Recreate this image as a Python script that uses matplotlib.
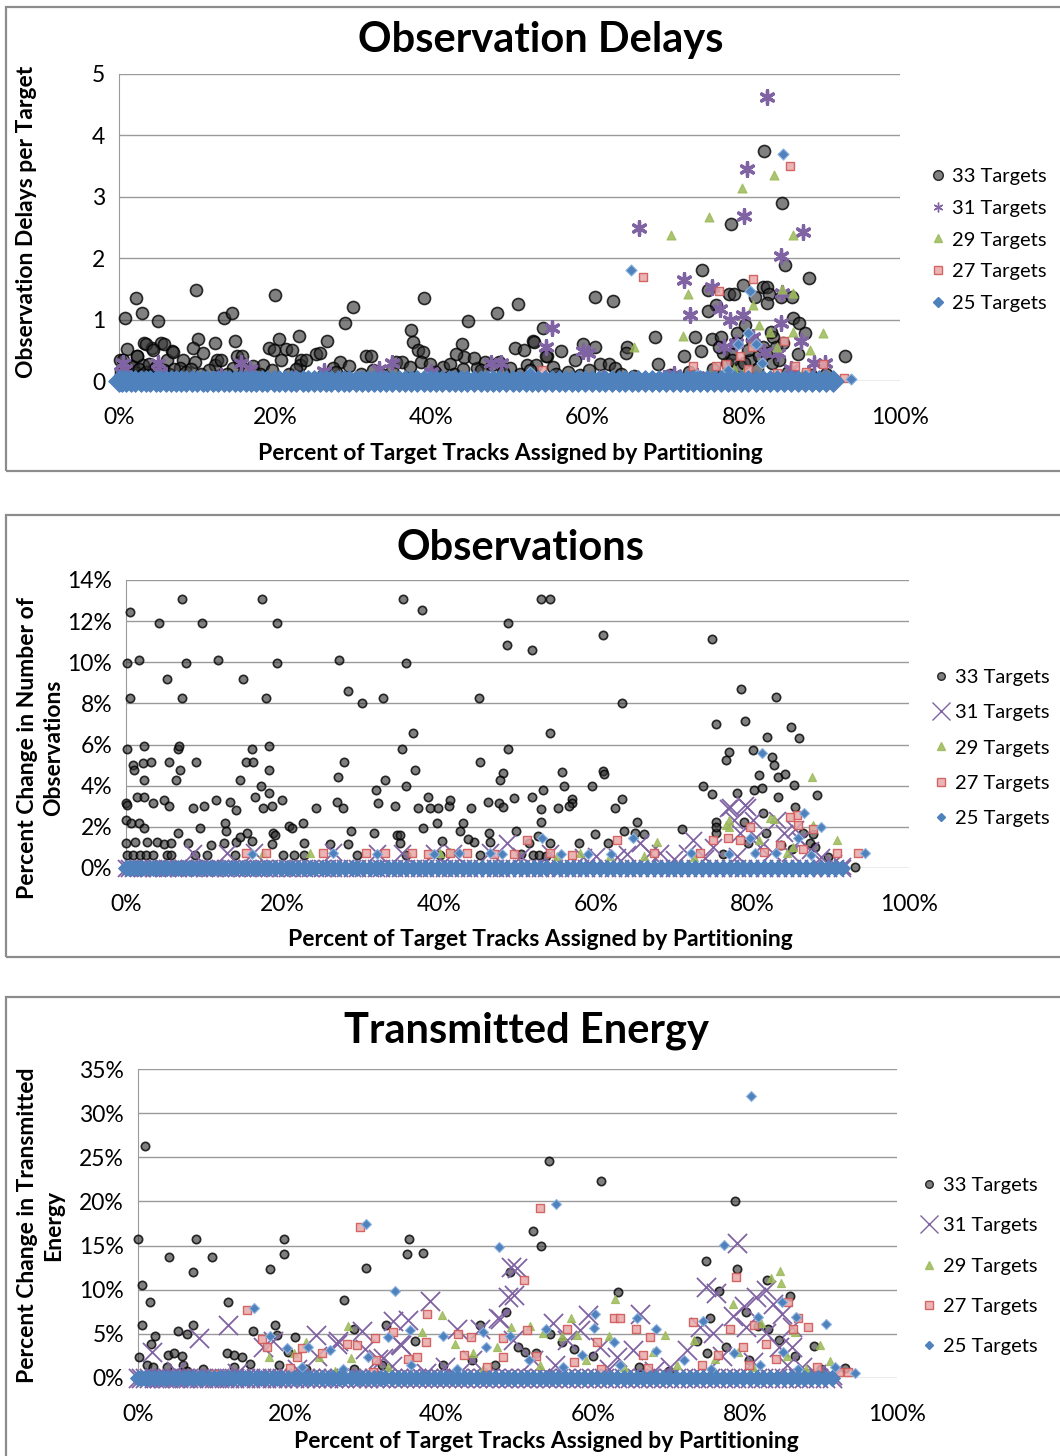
import numpy as np
import matplotlib
matplotlib.use("Agg")
import matplotlib.pyplot as plt
from matplotlib.lines import Line2D
from matplotlib.patches import Rectangle

plt.rcParams['font.family'] = ['Lato', 'DejaVu Sans']

series_names = ["33 Targets", "31 Targets", "29 Targets", "27 Targets", "25 Targets"]
x_ticks = [0, 20, 40, 60, 80, 100]

# runs whose result sits on zero (percent of tracks assigned)
zero_x = [0.0, 0.4, 0.9, 1.5, 2.1, 2.8, 3.4, 4.0, 4.7, 5.3, 6.0, 6.6, 7.3, 8.0, 8.6, 9.3,
          10.0, 10.7, 11.3, 12.0, 12.7, 13.4, 14.1, 14.8, 15.5, 16.2, 16.9, 17.6, 18.3, 19.0,
          19.8, 20.5, 21.2, 22.0, 22.7, 23.5, 24.2, 25.0, 25.7, 26.5, 27.2, 28.0, 28.8, 29.5,
          30.3, 31.1, 31.9, 32.6, 33.4, 34.2, 35.0, 35.8, 36.6, 37.4, 38.2, 39.0, 39.8, 40.6,
          41.4, 42.2, 43.0, 43.8, 44.6, 45.5, 46.3, 47.1, 47.9, 48.7, 49.6, 50.4, 51.2, 52.1,
          52.9, 53.7, 54.6, 55.4, 56.3, 57.1, 58.0, 58.8, 59.7, 60.5, 61.4, 62.2, 63.1, 64.0,
          64.8, 65.7, 66.5, 67.4, 68.3, 69.2, 70.0, 70.9, 71.8, 72.7, 73.5, 74.4, 75.3, 76.2,
          77.1, 78.0, 78.8, 79.7, 80.6, 81.5, 82.4, 83.3, 84.2, 85.1, 86.0, 86.9, 87.8, 88.7,
          89.6, 90.5, 91.4]

# ---------------- Observation Delays ----------------
d1_33 = [(2.2, 1.35), (0.8, 1.03), (3.0, 1.10), (5.0, 0.98), (9.9, 1.48), (13.5, 1.03), (14.5, 1.10),
         (20.0, 1.40), (28.9, 0.95), (29.9, 1.20), (39.0, 1.35), (44.7, 0.98), (48.4, 1.10), (51.1, 1.26),
         (37.4, 0.83), (37.6, 0.64), (38.3, 0.50), (10.1, 0.68), (9.5, 0.53), (12.3, 0.62), (14.9, 0.65),
         (15.1, 0.41), (23.1, 0.73), (20.5, 0.68), (21.4, 0.52), (19.2, 0.53), (26.6, 0.65), (25.2, 0.44),
         (23.3, 0.35), (31.6, 0.41), (28.3, 0.31), (29.4, 0.25), (35.5, 0.31), (43.9, 0.60), (44.2, 0.39),
         (43.1, 0.44), (50.7, 0.53), (45.9, 0.21), (46.9, 0.31), (3.2, 0.62), (4.2, 0.53), (5.4, 0.62),
         (6.8, 0.49), (1.0, 0.52), (0.1, 0.35), (2.3, 0.41), (12.6, 0.35), (15.5, 0.31), (17.2, 0.25),
         (82.6, 3.75), (84.9, 2.90), (78.4, 2.56), (85.3, 1.89), (88.3, 1.68), (74.7, 1.81), (61.0, 1.36),
         (63.3, 1.31), (79.9, 1.56), (75.4, 1.49), (78.1, 1.41), (78.8, 1.41), (82.5, 1.53), (83.0, 1.53),
         (83.2, 1.41), (83.0, 1.27), (81.4, 1.36), (84.8, 1.36), (86.2, 1.36), (76.5, 1.24), (75.4, 1.14),
         (86.3, 1.02), (87.1, 0.95), (80.2, 0.91), (79.1, 0.78), (87.9, 0.78), (83.8, 0.71), (73.7, 0.72),
         (68.6, 0.71), (75.9, 0.68), (77.1, 0.71), (93.0, 0.40), (69.0, 0.28), (72.4, 0.40), (74.5, 0.49),
         (87.0, 0.44), (54.3, 0.86), (53.0, 0.65), (59.4, 0.60), (60.9, 0.55), (65.1, 0.56), (64.9, 0.45),
         (56.6, 0.49), (54.8, 0.40), (58.4, 0.35), (61.6, 0.28), (62.7, 0.28), (63.5, 0.21), (55.6, 0.22),
         (78.3, 0.44), (82.4, 0.56), (84.1, 0.56),
         (3.5, 0.61), (5.7, 0.61), (4.4, 0.50), (2.3, 0.40), (0.5, 0.34), (1.8, 0.23), (3.1, 0.26),
         (4.4, 0.18), (6.1, 0.34), (6.9, 0.48), (8.2, 0.34), (7.8, 0.21), (9.7, 0.31), (10.8, 0.45),
         (12.3, 0.26), (13.1, 0.34), (15.7, 0.40), (14.6, 0.21), (18.5, 0.26), (19.8, 0.50), (20.8, 0.34),
         (22.1, 0.50), (23.2, 0.26), (24.0, 0.34), (25.7, 0.45), (27.4, 0.21), (32.3, 0.40), (32.5, 0.18),
         (36.2, 0.31), (37.3, 0.23), (38.9, 0.48), (38.7, 0.31), (39.8, 0.28), (41.5, 0.23), (42.4, 0.28),
         (45.4, 0.37), (46.4, 0.18), (47.7, 0.26), (48.6, 0.31), (50.1, 0.21), (51.8, 0.50), (52.2, 0.26),
         (53.1, 0.64), (53.4, 0.26), (54.7, 0.40),
         (0.3, 0.15), (0.8, 0.20), (1.3, 0.12), (1.6, 0.25), (2.0, 0.15), (2.6, 0.20), (2.9, 0.10),
         (3.4, 0.15), (3.8, 0.28), (4.1, 0.10), (4.8, 0.22), (5.2, 0.12), (5.8, 0.18), (6.4, 0.12),
         (7.1, 0.20), (8.6, 0.15), (9.2, 0.20), (10.5, 0.12), (11.5, 0.18), (13.8, 0.12), (16.5, 0.15),
         (18.0, 0.12), (19.6, 0.18), (21.8, 0.12), (22.6, 0.20), (26.1, 0.10), (27.8, 0.15), (31.0, 0.12),
         (33.8, 0.10), (35.0, 0.18), (40.4, 0.15), (42.9, 0.12), (44.0, 0.20), (49.2, 0.15), (51.4, 0.12),
         (52.6, 0.18), (55.9, 0.12), (57.5, 0.15), (59.0, 0.10), (60.2, 0.18), (64.3, 0.12), (66.0, 0.08),
         (70.5, 0.10), (73.0, 0.15), (76.0, 0.20), (77.8, 0.30), (79.5, 0.25), (80.8, 0.35), (81.7, 0.20),
         (83.6, 0.30), (85.6, 0.15), (88.6, 0.10), (90.5, 0.12), (79.0, 0.62), (80.5, 0.50), (81.0, 0.66),
         (82.0, 0.40), (82.8, 0.45), (83.5, 0.80), (84.5, 0.35), (85.0, 0.62), (80.0, 0.30), (78.5, 0.35),
         (77.3, 0.45), (76.8, 0.55)]
d1_31 = [(83.0, 4.63), (80.4, 3.46), (80.0, 2.69), (66.6, 2.49), (87.6, 2.42), (84.8, 2.04), (72.4, 1.64),
         (75.9, 1.53), (84.9, 1.43), (73.1, 1.07), (76.9, 1.18), (78.2, 0.99), (79.9, 1.07), (84.8, 0.95),
         (55.5, 0.87), (54.7, 0.56), (59.4, 0.49), (60.0, 0.45), (77.5, 0.56), (79.0, 0.62), (87.3, 0.65),
         (81.2, 0.72), (82.6, 0.48), (84.4, 0.46), (89.0, 0.30), (90.4, 0.30), (71.0, 0.12), (69.8, 0.05),
         (0.5, 0.30), (0.3, 0.15), (0.8, 0.20), (5.0, 0.30), (5.3, 0.15), (15.6, 0.30), (16.8, 0.20),
         (34.9, 0.30), (33.3, 0.20), (47.6, 0.30), (48.9, 0.30), (26.2, 0.17), (40.0, 0.15), (13.0, 0.08),
         (22.5, 0.05), (52.5, 0.06), (62.0, 0.05), (74.0, 0.08), (86.0, 0.20)]
d1_29 = [(83.9, 3.36), (79.8, 3.14), (75.5, 2.67), (70.7, 2.38), (86.3, 2.38), (72.9, 1.42), (84.9, 1.50),
         (86.3, 1.44), (81.2, 1.24), (81.9, 0.91), (86.3, 0.80), (90.1, 0.78), (72.2, 0.73), (66.0, 0.55),
         (83.4, 0.80), (80.0, 0.15), (87.5, 0.12), (77.3, 0.15), (78.8, 0.20), (57.0, 0.10), (84.2, 0.55),
         (88.5, 0.50)]
d1_27 = [(85.9, 3.50), (67.1, 1.69), (81.2, 1.66), (76.8, 1.46), (85.1, 0.65), (76.5, 0.25), (77.7, 0.28),
         (86.5, 0.24), (90.1, 0.28), (92.8, 0.05), (54.1, 0.18), (73.5, 0.24), (84.2, 0.13), (79.5, 0.40),
         (81.0, 0.55), (80.5, 0.20), (88.0, 0.15), (91.5, 0.04)]
d1_25 = [(85.0, 3.70), (65.6, 1.81), (80.8, 1.46), (80.6, 0.78), (79.2, 0.60), (93.7, 0.04), (52.6, 0.14),
         (78.0, 0.18), (82.3, 0.30), (74.0, 0.10), (88.0, 0.08), (81.5, 0.60)]

# ---------------- Observations (percent change) ----------------
d2_33 = [(7.1, 13.06), (17.4, 13.06), (35.4, 13.06), (37.8, 12.54), (0.5, 12.43), (4.2, 11.9), (9.7, 11.9),
         (19.3, 11.9), (48.8, 11.9), (48.7, 10.84), (0.1, 9.95), (1.6, 10.1), (7.7, 9.95), (11.8, 10.1),
         (19.3, 9.95), (27.2, 10.1), (35.7, 9.95), (5.3, 9.17), (15.0, 9.17), (0.5, 8.26), (7.2, 8.26),
         (17.9, 8.26), (28.3, 8.6), (30.1, 8.0), (32.8, 8.26), (45.1, 8.26), (36.6, 6.58), (0.1, 5.8),
         (2.3, 5.94), (6.7, 5.8), (6.8, 5.94), (16.1, 5.8), (18.2, 5.94), (35.3, 5.8), (48.8, 5.8),
         (0.9, 5.0), (1.0, 4.76), (2.2, 5.1), (3.2, 5.17), (5.5, 5.17), (6.9, 4.76), (9.0, 5.14), (15.3, 5.17),
         (16.2, 5.14), (18.2, 4.76), (27.9, 5.14), (36.9, 4.76), (45.2, 5.14), (48.1, 4.6), (47.8, 4.3),
         (2.3, 4.3), (6.4, 4.3), (14.5, 4.3), (17.2, 3.98), (33.1, 4.3), (35.8, 3.98), (27.1, 4.4),
         (31.9, 3.8), (18.2, 3.64),
         (0.0, 3.14), (0.1, 3.05), (1.4, 3.43), (2.3, 3.46), (3.4, 3.14), (4.8, 3.3), (5.5, 3.0), (8.6, 2.9),
         (9.9, 3.0), (11.5, 3.3), (13.3, 3.2), (14.0, 2.84), (16.5, 3.43), (17.5, 2.9), (18.7, 3.0),
         (19.9, 3.3), (24.3, 2.9), (26.9, 3.2), (27.7, 2.9), (32.2, 3.14), (34.4, 3.0), (37.3, 2.9),
         (38.6, 3.43), (38.8, 2.9), (39.8, 2.9), (41.2, 3.0), (41.4, 3.3), (44.0, 2.9), (46.2, 3.2),
         (47.7, 3.14), (48.2, 2.95), (49.5, 3.4),
         (0.0, 2.33), (0.6, 2.2), (1.7, 2.2), (2.3, 1.93), (9.4, 1.93), (12.7, 2.2), (12.8, 1.8),
         (20.8, 2.06), (21.2, 1.93), (22.6, 2.2), (28.7, 1.8), (31.7, 1.68), (37.9, 1.93), (39.7, 2.2),
         (42.7, 1.8), (43.1, 2.2), (46.3, 1.68), (49.8, 1.8), (6.7, 1.68), (15.4, 1.68), (18.8, 1.68),
         (0.0, 1.2), (1.1, 1.25), (2.7, 1.25), (3.9, 1.25), (4.8, 1.15), (5.8, 1.2), (7.9, 1.2), (10.8, 1.1),
         (12.5, 1.2), (14.0, 1.25), (16.1, 1.3), (18.6, 1.15), (22.7, 1.2), (26.0, 1.15), (28.4, 1.15),
         (35.0, 1.2), (40.4, 1.3), (44.4, 1.25), (34.6, 1.6), (46.5, 1.25), (14.6, 1.52), (19.0, 1.6),
         (35.0, 1.6), (43.7, 1.4),
         (0.1, 0.63), (0.9, 0.63), (1.8, 0.63), (2.6, 0.63), (3.5, 0.63), (5.2, 0.63), (5.8, 0.63),
         (8.8, 0.63), (10.3, 0.63), (13.9, 0.63), (20.1, 0.63), (21.4, 0.63), (22.7, 0.63), (29.5, 0.63),
         (35.8, 0.63), (40.1, 0.63), (45.2, 0.63),
         (53.0, 13.1), (54.2, 13.07), (51.9, 10.6), (60.9, 11.33), (74.8, 11.12), (63.3, 8.0), (78.5, 8.69),
         (83.0, 8.33), (75.4, 7.02), (79.0, 7.16), (84.9, 6.83), (85.9, 6.32), (81.9, 6.37), (54.2, 6.58),
         (80.1, 5.74), (77.0, 5.66), (76.6, 5.25), (82.5, 5.38), (82.7, 5.0), (83.3, 4.44), (84.2, 4.57),
         (55.7, 4.68), (60.9, 4.73), (61.0, 4.57), (80.8, 4.52), (73.7, 4.0), (56.0, 3.97), (59.5, 3.97),
         (85.3, 4.04), (74.8, 3.58), (53.3, 3.8), (51.9, 3.43), (63.4, 3.33), (57.0, 3.33), (56.9, 3.14),
         (56.6, 3.0), (53.0, 2.85), (55.2, 2.93), (62.5, 2.93), (78.0, 3.63), (80.2, 3.8), (81.2, 3.87),
         (83.3, 3.43), (88.3, 3.53), (85.4, 2.97), (81.4, 2.65), (75.4, 2.25), (78.9, 2.25), (53.0, 2.22),
         (65.3, 2.25), (75.4, 1.72), (75.4, 1.98), (71.0, 1.89), (63.6, 1.81), (65.0, 1.68), (66.2, 1.65),
         (59.9, 1.65), (81.7, 1.68), (87.8, 1.65), (86.5, 1.68), (57.9, 1.23), (61.5, 1.2), (54.2, 1.2),
         (87.3, 1.2), (89.7, 0.55), (93.1, 0.03), (52.6, 1.55), (51.5, 1.2), (50.5, 0.7), (52.0, 0.65),
         (52.8, 0.65), (53.6, 0.6), (79.5, 1.2), (83.6, 1.1), (85.0, 0.9), (76.2, 0.7), (88.0, 1.0)]
d2_31 = [(76.9, 2.9), (79.1, 3.07), (77.1, 2.98), (79.3, 2.98), (77.6, 2.34), (80.1, 2.34), (78.4, 1.69),
         (83.1, 2.34), (84.0, 1.69), (72.4, 1.36), (66.9, 0.71), (68.2, 0.71), (65.6, 1.2), (48.6, 1.2),
         (86.1, 1.36), (87.4, 0.88), (90.3, 0.23), (81.0, 1.04), (75.0, 1.04), (71.6, 0.71), (54.2, 0.71),
         (58.4, 0.55), (62.7, 0.55), (84.8, 0.71), (88.7, 0.55), (8.6, 0.71), (12.9, 0.71), (16.3, 0.79),
         (26.5, 0.79), (32.0, 0.71), (35.2, 0.71), (39.3, 0.71), (41.8, 0.71), (46.5, 0.79), (50.5, 0.6),
         (60.0, 0.6), (64.0, 0.7), (70.0, 0.45), (74.0, 0.5), (78.0, 0.6), (82.5, 0.8), (85.5, 1.9),
         (80.5, 1.5), (91.5, 0.1)]
d2_29 = [(87.6, 4.4), (77.0, 2.34), (77.0, 2.0), (82.7, 2.4), (90.8, 1.36), (67.8, 1.28), (84.4, 0.71),
         (58.0, 0.71), (61.8, 0.6), (66.1, 0.6), (85.2, 1.04), (80.8, 1.36), (17.5, 0.71), (23.5, 0.71),
         (40.1, 0.71), (41.4, 0.79), (76.6, 2.09), (87.7, 2.09), (82.2, 2.42), (55.0, 0.6), (72.5, 0.55)]
d2_27 = [(85.7, 2.58), (85.8, 2.1), (84.8, 2.5), (79.7, 2.0), (87.8, 1.9), (62.7, 1.36), (51.2, 1.36),
         (75.0, 1.36), (76.9, 1.44), (93.5, 0.71), (90.8, 0.71), (78.4, 1.36), (73.3, 0.71), (67.4, 0.71),
         (54.2, 0.71), (15.3, 0.71), (17.9, 0.75), (25.1, 0.71), (30.7, 0.71), (33.1, 0.75), (36.5, 0.75),
         (38.6, 0.70), (41.4, 0.71), (43.5, 0.71), (47.0, 0.7), (49.5, 0.7), (57.0, 0.65), (81.5, 0.8),
         (83.5, 1.1), (86.5, 0.9)]
d2_25 = [(81.2, 5.6), (86.6, 2.65), (88.8, 2.0), (64.8, 1.44), (53.1, 1.44), (94.4, 0.71), (72.2, 0.71),
         (79.7, 1.44), (85.8, 1.44), (80.3, 0.75), (62.0, 0.7), (16.1, 0.70), (26.5, 0.71), (32.0, 0.70),
         (39.3, 0.70), (46.5, 0.71), (42.5, 0.72), (48.0, 0.7), (55.5, 0.68), (59.0, 0.7), (77.0, 0.7),
         (83.0, 0.75), (87.5, 0.65)]

# ---------------- Transmitted Energy (percent change) ----------------
d3_33 = [(0.9, 26.3), (0.0, 15.8), (7.7, 15.8), (19.2, 15.8), (35.7, 15.8), (4.1, 13.7), (9.7, 13.7),
         (19.3, 14.1), (35.4, 14.1), (37.6, 14.2), (7.2, 12.0), (17.4, 12.3), (30.0, 12.5), (0.5, 10.5),
         (1.6, 8.6), (11.8, 8.6), (27.2, 8.8), (0.5, 6.0), (7.2, 6.0), (18.0, 6.0), (32.7, 6.0), (28.4, 5.6),
         (15.2, 5.3), (5.3, 5.3), (6.4, 5.0), (2.2, 4.8), (18.3, 4.9), (20.7, 4.7), (1.7, 3.8), (36.5, 4.2),
         (45.1, 6.0), (4.0, 2.6), (4.7, 2.8), (5.8, 2.5), (0.1, 2.4), (11.7, 2.8), (12.6, 2.6), (13.7, 2.4),
         (19.7, 2.9), (5.9, 1.5), (14.7, 1.6), (18.6, 1.5), (32.2, 1.5), (40.2, 1.5), (1.2, 1.5), (3.8, 1.3),
         (12.6, 1.3), (8.5, 1.0), (22.2, 1.0), (28.4, 1.0), (2.0, 1.2), (6.5, 0.8),
         (54.2, 24.6), (61.0, 22.3), (78.6, 20.0), (52.0, 16.7), (53.1, 15.0), (74.8, 13.3), (78.9, 12.4),
         (82.9, 11.1), (85.9, 9.3), (76.5, 9.8), (63.3, 9.7), (80.1, 7.5), (75.3, 6.8), (81.7, 5.9),
         (54.3, 5.0), (55.8, 4.1), (84.4, 4.3), (73.6, 4.2), (75.0, 2.8), (89.0, 3.6), (93.1, 1.1),
         (51.0, 3.0), (52.5, 2.8), (50.0, 3.5), (48.5, 7.5), (49.0, 12.0), (57.5, 3.3), (60.0, 2.5),
         (77.5, 3.5), (80.5, 2.0), (83.0, 5.5), (86.5, 2.5), (44.0, 2.0), (47.0, 1.5), (66.0, 1.2),
         (70.0, 0.8), (90.0, 1.0)]
d3_31 = [(1.8, 3.0), (8.0, 4.5), (11.8, 6.0), (17.8, 4.2), (23.5, 4.9), (26.4, 4.2), (29.5, 5.3), (33.6, 6.5),
         (35.6, 6.6), (38.5, 8.7), (32.3, 2.3), (34.5, 3.8), (42.0, 5.6), (45.1, 5.6), (47.7, 6.7), (49.5, 9.4),
         (49.9, 12.5), (16.5, 3.5), (23.6, 2.5), (26.2, 3.9), (29.9, 3.3), (34.7, 3.7), (47.4, 6.8),
         (31.6, 2.1), (33.4, 1.4), (49.2, 12.6), (48.7, 9.2), (54.7, 6.2), (59.3, 7.1), (66.1, 7.3),
         (58.2, 5.4), (65.2, 3.2), (60.9, 3.5), (56.5, 4.3), (74.9, 10.3), (76.2, 9.6), (78.9, 15.3),
         (79.8, 8.1), (78.4, 7.0), (81.4, 9.2), (82.7, 9.95), (83.6, 8.4), (84.9, 7.3), (86.2, 5.8),
         (80.1, 5.8), (74.0, 5.8), (75.7, 5.1), (72.3, 3.2), (82.7, 5.1), (84.5, 3.5), (86.2, 3.5),
         (87.5, 1.3), (89.3, 0.5), (70.1, 1.3), (63.1, 2.4), (49.4, 4.3), (52.0, 2.0), (55.0, 1.5),
         (62.0, 1.0), (68.0, 0.8), (77.0, 2.5), (81.0, 1.8), (85.5, 1.5), (91.5, 0.3), (44.0, 2.0),
         (40.5, 1.2), (21.0, 1.0), (5.0, 0.8), (13.0, 0.6), (38.0, 0.6)]
d3_29 = [(84.6, 12.1), (84.7, 10.8), (83.4, 11.3), (62.8, 8.9), (78.4, 8.4), (57.1, 6.8), (69.4, 4.9),
         (62.0, 4.8), (53.4, 5.1), (51.6, 5.9), (49.2, 5.8), (67.9, 3.0), (73.2, 4.3), (86.5, 5.2), (89.9, 3.7),
         (91.2, 1.9), (57.8, 4.9), (55.8, 4.8), (82.1, 6.2), (27.7, 5.9), (40.0, 7.1), (22.2, 4.1), (28.1, 2.3),
         (17.2, 2.4), (37.4, 5.2), (23.9, 2.4), (20.5, 2.8), (41.8, 3.9), (47.3, 3.5), (44.2, 2.8),
         (53.0, 1.5), (59.0, 2.0), (64.0, 1.2), (71.0, 1.5), (76.0, 2.2), (79.0, 3.0), (81.0, 1.2),
         (85.5, 2.5), (88.0, 1.0), (33.0, 1.2), (26.0, 0.8), (45.5, 1.0)]
d3_27 = [(29.2, 17.1), (14.3, 7.7), (38.1, 7.3), (33.6, 5.2), (31.2, 4.5), (27.6, 3.9), (16.4, 4.4),
         (17.0, 3.5), (21.6, 3.4), (20.9, 2.4), (24.3, 2.8), (28.9, 3.7), (31.4, 2.0), (35.6, 2.2), (36.7, 2.4),
         (37.9, 4.1), (42.2, 5.0), (43.9, 4.6), (42.9, 2.6), (48.1, 4.5), (48.1, 2.4), (20.0, 1.1),
         (53.0, 19.3), (50.9, 11.1), (78.8, 11.4), (62.7, 6.8), (63.5, 6.8), (73.1, 6.3), (65.6, 5.5),
         (56.5, 5.5), (67.5, 4.7), (60.5, 4.1), (66.6, 2.6), (51.3, 5.4), (85.7, 8.6), (87.0, 6.8),
         (86.3, 5.6), (88.3, 5.8), (78.0, 5.5), (81.1, 6.0), (92.3, 0.7), (93.6, 0.7), (67.2, 1.1),
         (74.3, 1.5), (76.4, 2.6), (79.7, 3.5), (82.8, 3.9), (52.5, 2.5), (57.5, 1.8), (61.0, 1.0),
         (84.0, 2.2), (80.5, 1.5), (89.5, 1.2), (46.0, 1.2), (10.0, 0.5), (31.0, 0.7)]
d3_25 = [(80.7, 31.9), (55.1, 19.7), (77.2, 15.1), (30.1, 17.5), (33.9, 9.9), (47.5, 14.8), (15.3, 7.9),
         (65.7, 6.8), (60.1, 5.7), (68.2, 5.5), (62.7, 4.1), (53.8, 5.6), (90.6, 6.1), (81.7, 6.9),
         (84.8, 8.6), (86.7, 6.9), (74.5, 6.5), (68.3, 3.1), (94.5, 0.6), (91.8, 1.3), (60.2, 7.3),
         (49.0, 4.8), (19.6, 3.4), (22.4, 3.5), (25.3, 3.2), (30.3, 2.4), (32.9, 4.7), (35.8, 5.4),
         (40.2, 4.8), (45.5, 5.2), (45.9, 3.5), (17.4, 4.8), (21.6, 1.2), (51.5, 2.0), (56.0, 1.2),
         (58.5, 2.6), (63.5, 1.5), (72.0, 2.0), (75.5, 1.0), (78.5, 2.8), (82.0, 1.5), (85.0, 3.0),
         (87.0, 1.0), (42.0, 1.0), (36.0, 1.5), (27.0, 1.0)]

colors = {
    "33": ((0.2, 0.2, 0.2, 0.62), (0.0, 0.0, 0.0, 0.8)),
    "31": ((0.50, 0.39, 0.64, 1.0), (0.50, 0.39, 0.64, 1.0)),
    "29": ((0.61, 0.73, 0.35, 0.85), (0.61, 0.73, 0.35, 0.85)),
    "27": ((0.91, 0.66, 0.66, 0.85), (0.82, 0.35, 0.35, 0.9)),
    "25": ((0.31, 0.51, 0.74, 1.0), (0.55, 0.70, 0.88, 1.0)),
}

W, H = 1060, 1456
fig = plt.figure(figsize=(W / 100, H / 100), dpi=100)

# panel frames
for (y0, y1) in [(7, 471), (515, 957), (997, 1470)]:
    fig.patches.append(Rectangle((6 / W, 1 - y1 / H), (1080 - 6) / W, (y1 - y0) / H,
                                 transform=fig.transFigure, fill=False,
                                 edgecolor='#8c8c8c', linewidth=1.6))


def px(x, y):
    return x / W, 1 - y / H


def setup_axes(box, ymax, ystep, yfmt):
    l, t, r, b = box
    ax = fig.add_axes([l / W, 1 - b / H, (r - l) / W, (b - t) / H])
    ax.set_xlim(0, 100)
    ax.set_ylim(0, ymax)
    ax.set_xticks(x_ticks)
    ax.set_xticklabels([f"{v}%" for v in x_ticks])
    yt = np.arange(0, ymax + 0.001, ystep)
    ax.set_yticks(yt)
    ax.set_yticklabels([yfmt(v) for v in yt])
    ax.grid(axis='y', color='#9a9a9a', linewidth=1.0)
    ax.set_axisbelow(True)
    for s in ['top', 'right', 'bottom']:
        ax.spines[s].set_visible(False)
    ax.spines['left'].set_color('#9a9a9a')
    ax.tick_params(axis='both', length=0, labelsize=16.5, colors='#000000')
    ax.tick_params(axis='x', pad=19)
    ax.tick_params(axis='y', pad=10)
    return ax


def scatter_all(ax, data, sizes, x_marker, zero_series):
    x33, y33 = np.array(data[0]).T
    ax.scatter(x33, y33, s=sizes[0], marker='o', facecolor=colors["33"][0],
               edgecolor=colors["33"][1], linewidth=1.2, clip_on=False, zorder=3)
    x31, y31 = np.array(data[1]).T
    if x_marker == 'x':
        ax.scatter(x31, y31, s=sizes[1], marker='x', color=colors["31"][0], linewidth=1.3,
                   clip_on=False, zorder=4)
        if "31" in zero_series:
            ax.scatter(zero_x, np.zeros(len(zero_x)), s=sizes[1], marker='x', color=colors["31"][0],
                       linewidth=1.3, clip_on=False, zorder=4)
    else:
        ax.scatter(x31, y31, s=sizes[1], marker=(6, 2, 0), color=colors["31"][0], linewidth=2.4,
                   clip_on=False, zorder=4)
    x29, y29 = np.array(data[2]).T
    ax.scatter(x29, y29, s=sizes[2], marker='^', facecolor=colors["29"][0], edgecolor=colors["29"][1],
               linewidth=0.8, clip_on=False, zorder=5)
    x27, y27 = np.array(data[3]).T
    ax.scatter(x27, y27, s=sizes[3], marker='s', facecolor=colors["27"][0], edgecolor=colors["27"][1],
               linewidth=1.0, clip_on=False, zorder=6)
    if "27" in zero_series:
        ax.scatter(zero_x, np.zeros(len(zero_x)), s=sizes[3], marker='s', facecolor='#c0504d',
                   edgecolor='#c0504d', linewidth=0.5, clip_on=False, zorder=6)
    x25, y25 = np.array(data[4]).T
    ax.scatter(x25, y25, s=sizes[4], marker='D', facecolor=colors["25"][0], edgecolor=colors["25"][1],
               linewidth=0.8, clip_on=False, zorder=7)
    ax.scatter(zero_x, np.zeros(len(zero_x)), s=sizes[5], marker='D', facecolor='#4f81bd',
               edgecolor='#4f81bd', linewidth=0.8, clip_on=False, zorder=7)


def add_legend(ax, xy, spacing, ms, x_marker):
    if x_marker == 'x':
        m31 = Line2D([], [], linestyle='none', marker='x', markersize=ms[1], color=colors["31"][0],
                     markeredgewidth=1.0)
    else:
        m31 = Line2D([], [], linestyle='none', marker=(6, 2, 0), markersize=ms[1], color=colors["31"][0],
                     markeredgewidth=1.0)
    handles = [
        Line2D([], [], linestyle='none', marker='o', markersize=ms[0], markerfacecolor=colors["33"][0],
               markeredgecolor=colors["33"][1]),
        m31,
        Line2D([], [], linestyle='none', marker='^', markersize=ms[2], color=colors["29"][0]),
        Line2D([], [], linestyle='none', marker='s', markersize=ms[3], markerfacecolor=colors["27"][0],
               markeredgecolor=colors["27"][1]),
        Line2D([], [], linestyle='none', marker='D', markersize=ms[4], color=colors["25"][0]),
    ]
    fig.legend(handles, series_names, loc='center left', bbox_to_anchor=px(*xy),
               frameon=False, fontsize=14.5, labelspacing=spacing, handlelength=0.6,
               handletextpad=0.4, borderpad=0)


def label_panel(title, title_xy, xlabel_xy, ylabel, ylabel_xy):
    fig.text(*px(*title_xy), title, fontsize=30, fontweight='bold', ha='center', va='center')
    fig.text(*px(*xlabel_xy), "Percent of Target Tracks Assigned by Partitioning", fontsize=16.5,
             fontweight='bold', ha='center', va='center')
    fig.text(*px(*ylabel_xy), ylabel, fontsize=16.5, fontweight='bold', ha='center', va='center',
             rotation=90, multialignment='center', linespacing=1.3)


# panel 1
ax1 = setup_axes((119, 74, 900, 381), 5, 1, lambda v: f"{v:.0f}")
scatter_all(ax1, [d1_33, d1_31, d1_29, d1_27, d1_25], [75, 95, 42, 34, 32, 120], '*', ["27"])
add_legend(ax1, (922, 240), 0.72, [7, 7, 6, 5.5, 5], '*')
label_panel("Observation Delays", (541, 40), (510, 453), "Observation Delays per Target", (27, 222))

# panel 2
ax2 = setup_axes((126, 580, 909, 868), 14, 2, lambda v: f"{v:.0f}%")
scatter_all(ax2, [d2_33, d2_31, d2_29, d2_27, d2_25], [36, 150, 34, 32, 26, 65], 'x', ["31", "27"])
add_legend(ax2, (925, 748), 0.9, [5.5, 13, 5.5, 5.5, 4.5], 'x')
label_panel("Observations", (521, 548), (540, 939), "Percent Change in Number of\nObservations", (41, 748))

# panel 3
ax3 = setup_axes((138, 1069, 897, 1378), 35, 5, lambda v: f"{v:.0f}%")
scatter_all(ax3, [d3_33, d3_31, d3_29, d3_27, d3_25], [36, 190, 34, 32, 26, 65], 'x', ["31", "27"])
add_legend(ax3, (913, 1266), 1.15, [5.5, 13, 5.5, 5.5, 4.5], 'x')
label_panel("Transmitted Energy", (527, 1031), (546, 1442), "Percent Change in Transmitted\nEnergy", (41, 1225))

fig.savefig("out.png", dpi=100)
